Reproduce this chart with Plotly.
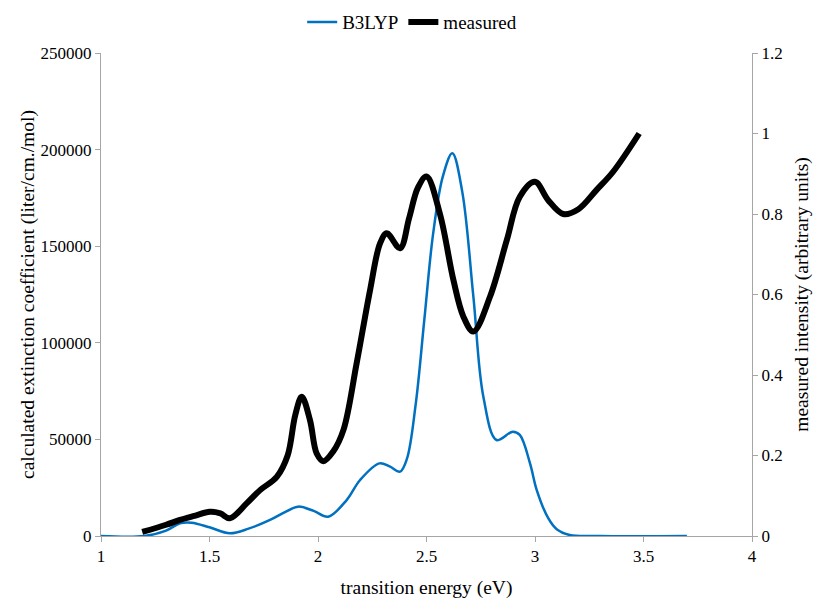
import plotly.graph_objects as go

# B3LYP calculated spectrum (liter/cm./mol)
b3lyp_x = [1.0, 1.2, 1.3, 1.364, 1.418, 1.5, 1.594, 1.68, 1.779, 1.85, 1.909, 1.98, 2.047,
           2.132, 2.194, 2.283, 2.33, 2.378, 2.41, 2.45, 2.49, 2.53, 2.575, 2.619, 2.665, 2.716,
           2.762, 2.823, 2.897, 2.93, 2.977, 3.008, 3.061, 3.1, 3.16, 3.3, 3.7]
b3lyp_y = [0, 0, 2800, 6600, 6900, 4500, 1400, 3800, 8300, 12500, 15200, 13000, 10000,
           18600, 29000, 37600, 36000, 33300, 40000, 68000, 112000, 156000, 186000, 198100, 178000, 123900,
           72100, 49700, 54000, 52300, 37600, 23800, 9200, 3500, 500, 0, 0]

# measured intensity (arbitrary units)
meas_x = [1.19, 1.3, 1.364, 1.43, 1.502, 1.55, 1.594, 1.671, 1.733, 1.81, 1.86, 1.895, 1.925,
          1.963, 1.994, 2.025, 2.07, 2.117, 2.178, 2.24, 2.286, 2.317, 2.378,
          2.42, 2.46, 2.5, 2.562, 2.624, 2.67, 2.716, 2.793, 2.87, 2.93, 3.0, 3.06, 3.13, 3.2,
          3.284, 3.36, 3.48]
meas_y = [0.01, 0.028, 0.04, 0.05, 0.06, 0.056, 0.044, 0.081, 0.114, 0.147, 0.2, 0.3, 0.346,
          0.288, 0.205, 0.186, 0.21, 0.263, 0.429, 0.611, 0.727, 0.752, 0.715,
          0.79, 0.865, 0.893, 0.80, 0.636, 0.545, 0.508, 0.595, 0.735, 0.843, 0.88, 0.835, 0.80, 0.812,
          0.86, 0.905, 1.0]

x_ticks = [1, 1.5, 2, 2.5, 3, 3.5, 4]
y1_ticks = [0, 50000, 100000, 150000, 200000, 250000]
y2_ticks = [0, 0.2, 0.4, 0.6, 0.8, 1, 1.2]

FONT = "Liberation Serif, Times New Roman, serif"
TICKFONT = dict(family=FONT, size=17, color="#000")
TITLEFONT = dict(family=FONT, size=19.5, color="#000")

fig = go.Figure()
fig.add_trace(go.Scatter(x=b3lyp_x, y=b3lyp_y, name="B3LYP", mode="lines",
                         line=dict(color="#0070C0", width=2.5, shape="spline", smoothing=1.0)))
fig.add_trace(go.Scatter(x=meas_x, y=meas_y, name="measured", mode="lines", yaxis="y2",
                         line=dict(color="#000000", width=6, shape="spline", smoothing=1.0)))

axis_common = dict(showgrid=False, zeroline=False, showline=True, linecolor="#A6A6A6",
                   linewidth=1, ticks="outside", ticklen=5, tickcolor="#A6A6A6",
                   tickfont=TICKFONT)

fig.update_layout(
    width=814, height=599,
    margin=dict(l=101, r=62, t=53, b=63, autoexpand=False),
    plot_bgcolor="white", paper_bgcolor="white",
    font=dict(family=FONT, size=17, color="#000"),
    showlegend=True,
    legend=dict(orientation="h", x=0.478, xanchor="center", y=1.064, yanchor="middle",
                font=dict(family=FONT, size=19), itemwidth=30, tracegroupgap=0,
                bgcolor="rgba(0,0,0,0)"),
    xaxis=dict(range=[1, 4], tickvals=x_ticks, ticktext=[str(v) for v in x_ticks],
               title=dict(text="transition energy (eV)", font=TITLEFONT, standoff=22),
               **axis_common),
    yaxis=dict(range=[0, 250000], tickvals=y1_ticks, ticktext=[str(v) for v in y1_ticks],
               title=dict(text="calculated extinction coefficient (liter/cm./mol)",
                          font=TITLEFONT, standoff=0),
               **axis_common),
    yaxis2=dict(range=[0, 1.2], tickvals=y2_ticks, ticktext=[str(v) for v in y2_ticks],
                overlaying="y", side="right",
                title=dict(text="measured intensity (arbitrary units)",
                           font=TITLEFONT, standoff=12),
                **axis_common),
)

fig.write_html("out.html")
